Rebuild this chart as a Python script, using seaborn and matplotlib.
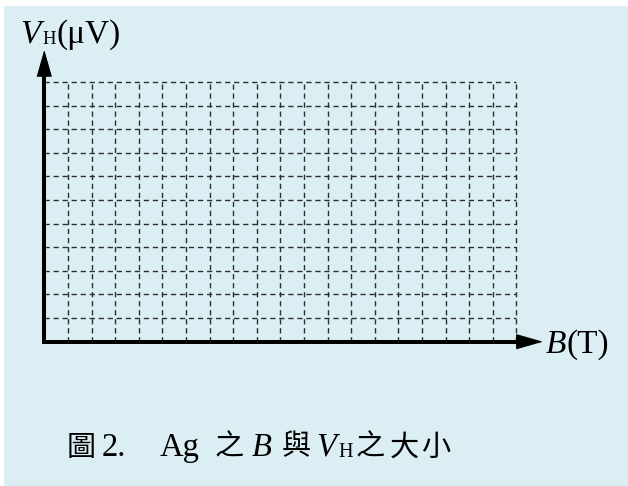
import matplotlib
matplotlib.use("Agg")
import matplotlib.pyplot as plt
from matplotlib.patches import Rectangle
import seaborn as sns

# Grid divisions of the blank V_H–B graph paper
x_ticks = list(range(0, 21))   # B axis: 20 columns
y_ticks = list(range(0, 12))   # V_H axis: 11 rows

y_label_main = "V"
y_label_sub = "H"
y_label_unit = "(μV)"
x_label_main = "B"
x_label_unit = "(T)"

W_PX, H_PX = 628, 486
BG = "#dbeef3"

sns.set_theme(style="white")
plt.rcParams["font.family"] = ["Liberation Serif", "Noto Sans CJK TC"]
plt.rcParams["axes.facecolor"] = "none"

fig = plt.figure(figsize=(W_PX / 100, H_PX / 100), dpi=100)
fig.patch.set_facecolor("white")
fig.patches.append(Rectangle((4 / W_PX, 0), 1 - 4 / W_PX, 1 - 6 / H_PX,
                             transform=fig.transFigure, facecolor=BG,
                             edgecolor="none", zorder=-10))

# axes box in pixels: left 44.3, right 516.3, top 82, bottom 341.7
left, right, top, bottom = 44.3, 516.3, 82.0, 341.7
ax = fig.add_axes([left / W_PX, 1 - bottom / H_PX,
                   (right - left) / W_PX, (bottom - top) / H_PX])
ax.set_xlim(x_ticks[0], x_ticks[-1])
ax.set_ylim(y_ticks[0], y_ticks[-1])
ax.set_xticks(x_ticks)
ax.set_yticks(y_ticks)
ax.set_xticklabels([])
ax.set_yticklabels([])
ax.tick_params(length=0)
sns.despine(ax=ax, left=True, bottom=True)
ax.grid(True, color="#2e2e2e", linewidth=1.0, linestyle=(0, (3.8, 2.7)))
for gl in ax.get_xgridlines() + ax.get_ygridlines():
    gl.set_clip_on(False)

# axis lines with arrow heads
cell_px = (right - left) / (x_ticks[-1] - x_ticks[0])
y_tip = (bottom - 50) / cell_px
x_tip = (543 - left) / cell_px
y_base = (bottom - 76) / cell_px
x_base = (517 - left) / cell_px
lw_axis = 2.9
ax.plot([0, 0], [-0.08, y_base], color="black", lw=lw_axis,
        solid_capstyle="butt", clip_on=False, zorder=5)
ax.plot([-0.08, x_base], [0, 0], color="black", lw=lw_axis,
        solid_capstyle="butt", clip_on=False, zorder=5)
head = "-|>,head_length=1.75,head_width=0.5"
ax.annotate("", xy=(0, y_tip), xytext=(0, 0), annotation_clip=False,
            arrowprops=dict(arrowstyle=head, lw=0.8, color="black",
                            shrinkA=0, shrinkB=0, mutation_scale=10),
            zorder=6)
ax.annotate("", xy=(x_tip, 0), xytext=(0, 0), annotation_clip=False,
            arrowprops=dict(arrowstyle=head, lw=0.8, color="black",
                            shrinkA=0, shrinkB=0, mutation_scale=10),
            zorder=6)


def put(x, y, s, size, **kw):
    fig.text(x / W_PX, 1 - y / H_PX, s, fontsize=size, va="baseline",
             ha="left", color="black", **kw)


SERIF = ["Liberation Serif"]
CJK = ["Noto Sans CJK TC"]

# y-axis label
put(20, 42.5, y_label_main, 24, family=SERIF, style="italic")
put(42, 43.5, y_label_sub, 13.5, family=SERIF)
put(56.5, 42.5, y_label_unit, 24, family=SERIF)

# x-axis label
put(546, 353, x_label_main, 24, family=SERIF, style="italic")
put(566, 353, x_label_unit, 24, family=SERIF)

# caption
base = 455.5
put(66.5, base, "圖", 21, family=CJK)
put(102, base, "2.", 23.5, family=SERIF)
put(160, base, "Ag", 23.5, family=SERIF)
put(214.5, base, "之", 21, family=CJK)
put(252, base, "B", 23.5, family=SERIF, style="italic")
put(281.5, base, "與", 21, family=CJK)
put(316, base, "V", 23.5, family=SERIF, style="italic")
put(338.5, base + 1.5, "H", 14.5, family=SERIF)
put(356, base, "之", 21, family=CJK)
put(390, base, "大", 21, family=CJK)
put(421, base, "小", 21, family=CJK)

fig.savefig("out.png", dpi=100, facecolor=fig.get_facecolor())
